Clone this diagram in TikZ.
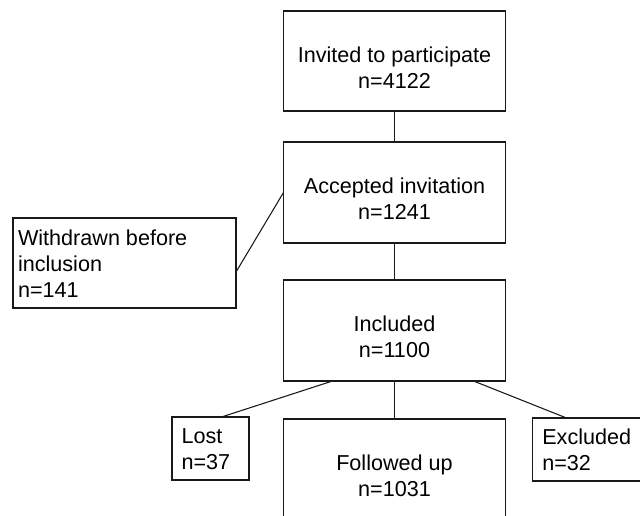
\documentclass[tikz,border=0pt]{standalone}
\usepackage{fontspec}
\setmainfont{Liberation Sans}
\usetikzlibrary{calc}
\begin{document}
\begin{tikzpicture}[x=0.75pt,y=-0.75pt,
  box/.style={draw=black!90, line width=0.8pt, inner sep=0pt, outer sep=0pt},
  conn/.style={draw=black!90, line width=0.8pt},
  lbl/.style={inner sep=0pt, outer sep=0pt, font=\fontsize{16.2}{19.3}\selectfont}]
\useasboundingbox (0,0) rectangle (640,516);
% boxes
\node[box, minimum width=166.5pt, minimum height=75pt] (invited) at (394.5,61) {};
\node[box, minimum width=166.5pt, minimum height=75.75pt] (accepted) at (394.5,192.5) {};
\node[box, minimum width=167.25pt, minimum height=67.5pt] (withdrawn) at (124.5,263) {};
\node[box, minimum width=166.5pt, minimum height=75.75pt] (included) at (394.5,330.5) {};
\node[box, minimum width=57.75pt, minimum height=47.25pt] (lost) at (210.5,448.5) {};
\node[box, minimum width=166.5pt, minimum height=79.5pt] (followed) at (394.5,472) {};
\node[box, minimum width=88.125pt, minimum height=47.25pt] (excluded) at (591.25,449.5) {};
% texts
\node[lbl, anchor=base] (tinvited) at (394.5,62.7) {\begin{tabular}[t]{@{}c@{}}Invited to participate\\n=4122\end{tabular}};
\node[lbl, anchor=base] (taccepted) at (394.5,194) {\begin{tabular}[t]{@{}c@{}}Accepted invitation\\n=1241\end{tabular}};
\node[lbl, anchor=base west] (twithdrawn) at (18,246) {\begin{tabular}[t]{@{}l@{}}Withdrawn before\\inclusion\\n=141\end{tabular}};
\node[lbl, anchor=base] (tincluded) at (394.5,332) {\begin{tabular}[t]{@{}c@{}}Included\\n=1100\end{tabular}};
\node[lbl, anchor=base west] (tlost) at (181.5,443.6) {\begin{tabular}[t]{@{}l@{}}Lost\\n=37\end{tabular}};
\node[lbl, anchor=base] (tfollowed) at (394.5,470.3) {\begin{tabular}[t]{@{}c@{}}Followed up\\n=1031\end{tabular}};
\node[lbl, anchor=base west] (texcluded) at (542.3,444.3) {\begin{tabular}[t]{@{}l@{}}Excluded\\n=32\end{tabular}};
% connectors
\draw[conn] (invited.south) -- (accepted.north);
\draw[conn] ($(withdrawn.east)+(0,9)$) -- (accepted.west);
\draw[conn] (accepted.south) -- (included.north);
\draw[conn] ($(included.south west)+(49,0)$) -- ($(lost.north)+(11,0)$);
\draw[conn] (included.south) -- (followed.north);
\draw[conn] ($(included.south east)+(-32,0)$) -- ($(excluded.north west)+(34,0)$);
\end{tikzpicture}
\end{document}
